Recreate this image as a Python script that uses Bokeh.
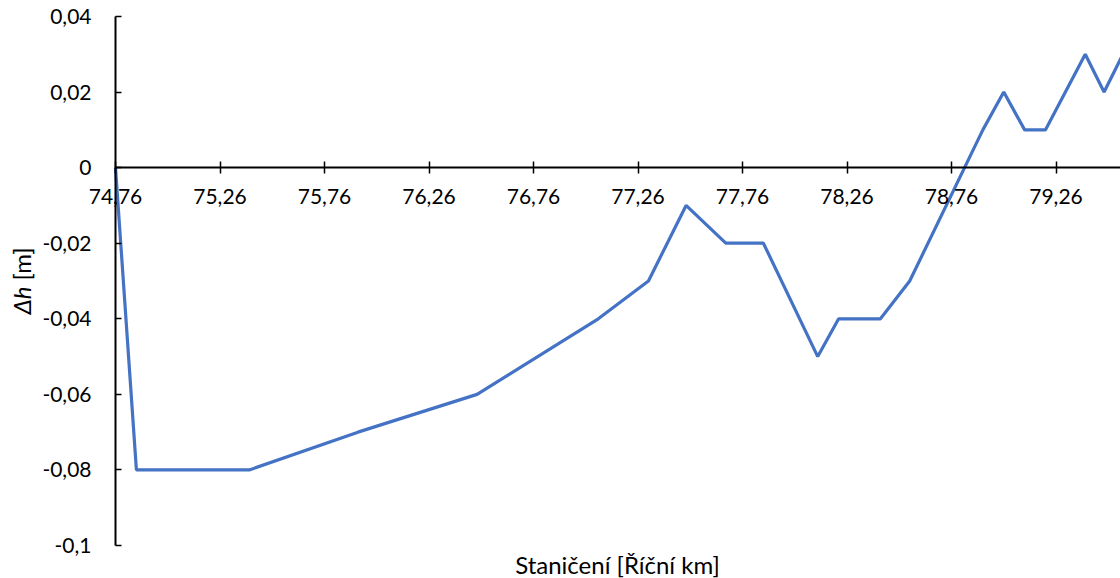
from bokeh.plotting import figure
from bokeh.models import FixedTicker, CustomJSTickFormatter, Label, Range1d
from bokeh.embed import file_html
from bokeh.resources import INLINE

# Data (river km vs. height difference)
km = [74.76, 74.86, 75.40, 75.92, 76.49, 77.07, 77.31, 77.49, 77.68, 77.86,
      78.12, 78.22, 78.42, 78.56, 78.91, 79.01, 79.11, 79.21, 79.40, 79.49, 79.58]
dh = [0.0, -0.08, -0.08, -0.07, -0.06, -0.04, -0.03, -0.01, -0.02, -0.02,
      -0.05, -0.04, -0.04, -0.03, 0.01, 0.02, 0.01, 0.01, 0.03, 0.02, 0.03]
x_ticks = [74.76, 75.26, 75.76, 76.26, 76.76, 77.26, 77.76, 78.26, 78.76, 79.26]
y_ticks = [-0.1, -0.08, -0.06, -0.04, -0.02, 0.0, 0.02, 0.04]
x_title = "Staničení [Říční km]"
y_title_italic = "Δh"
y_title_rest = "[m]"

FONT = "Lato"
FS = "21px"
FS_TITLE = "24px"

W, H = 1120, 578
# layout geometry (pixels): where the axes sit on the canvas
AX_LEFT_PX = 115        # pixel of the y axis (x = 74.76)
PX_PER_KM = 209.0
Y_TOP_PX, Y_BOT_PX = 16, 545   # pixels of 0.04 and -0.1

x_min = 74.76
y_lo, y_hi = -0.1, 0.04
px_per_unit_y = (Y_BOT_PX - Y_TOP_PX) / (y_hi - y_lo)

x_start = x_min - AX_LEFT_PX / PX_PER_KM
x_end = x_start + W / PX_PER_KM
y_end = y_hi + Y_TOP_PX / px_per_unit_y
y_start = y_end - H / px_per_unit_y


def dx(px):
    return x_start + px / PX_PER_KM


def dy(py):
    return y_end - py / px_per_unit_y


p = figure(width=W, height=H, output_backend="svg", toolbar_location=None,
           x_range=Range1d(x_start, x_end), y_range=Range1d(y_start, y_end),
           min_border=0, min_border_left=0, min_border_right=0,
           min_border_top=0, min_border_bottom=0)
p.outline_line_color = None
p.xgrid.visible = False
p.ygrid.visible = False
p.background_fill_color = "white"
p.border_fill_color = "white"

p.line(km, dh, line_color="#4472C4", line_width=3.2)

# x axis crossing at y = 0
xa = p.xaxis[0]
xa.fixed_location = 0
xa.bounds = (x_min, x_end)
xa.ticker = FixedTicker(ticks=x_ticks)
xa.formatter = CustomJSTickFormatter(code="return tick.toFixed(2).replace('.', ',');")
xa.minor_tick_line_color = None
xa.major_tick_in = 6
xa.major_tick_out = 6
xa.major_tick_line_width = 1.5
xa.major_tick_line_color = "black"
xa.axis_line_color = "black"
xa.axis_line_width = 2
xa.major_label_standoff = 15
xa.major_label_text_font = FONT
xa.major_label_text_font_size = FS
xa.major_label_text_color = "black"

# y axis at x = 74.76
ya = p.yaxis[0]
ya.fixed_location = x_min
ya.bounds = (y_lo, y_hi)
ya.ticker = FixedTicker(ticks=y_ticks)
ya.formatter = CustomJSTickFormatter(
    code="var s = (Math.round(tick*100)/100).toString(); return s.replace('.', ',');")
ya.minor_tick_line_color = None
ya.major_tick_in = 6
ya.major_tick_out = 0
ya.major_tick_line_width = 1.5
ya.major_tick_line_color = "black"
ya.axis_line_color = "black"
ya.axis_line_width = 2
ya.major_label_standoff = 24
ya.major_label_text_font = FONT
ya.major_label_text_font_size = FS
ya.major_label_text_color = "black"

# axis titles
p.add_layout(Label(x=dx(617), y=dy(564), text=x_title, text_align="center",
                   text_baseline="middle", text_font=FONT,
                   text_font_size=FS_TITLE, text_color="black"))
p.add_layout(Label(x=dx(21), y=dy(286), text=y_title_italic,
                   angle=1.5707963, text_align="right", text_baseline="middle",
                   text_font=FONT, text_font_style="italic",
                   text_font_size=FS_TITLE, text_color="black"))
p.add_layout(Label(x=dx(21), y=dy(280), text=y_title_rest,
                   angle=1.5707963, text_align="left", text_baseline="middle",
                   text_font=FONT, text_font_size=FS_TITLE, text_color="black"))

open("out.html", "w").write(file_html(p, INLINE))
